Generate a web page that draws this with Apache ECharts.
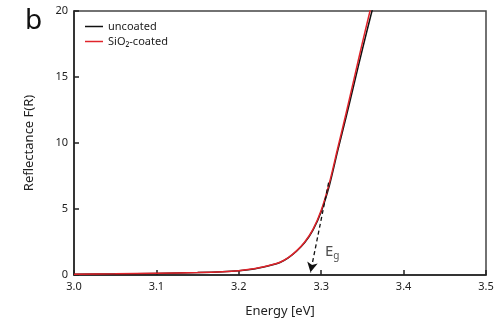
<!DOCTYPE html>
<html>
<head>
<meta charset="utf-8">
<script src="https://cdn.jsdelivr.net/npm/echarts@6/dist/echarts.min.js"></script>
<style>
  html, body { margin: 0; padding: 0; background: #fff; }
  #chart { width: 499px; height: 323px; }
</style>
</head>
<body>
<div id="chart"></div>
<script>
// energy in eV, reflectance F(R)
const uncoated = [
  [3.00, 0.05], [3.05, 0.08], [3.10, 0.12], [3.15, 0.18], [3.18, 0.24],
  [3.20, 0.32], [3.22, 0.47], [3.24, 0.75], [3.25, 0.95], [3.26, 1.30],
  [3.27, 1.80], [3.28, 2.45], [3.29, 3.40], [3.30, 4.80], [3.31, 6.80],
  [3.32, 9.40], [3.33, 11.9], [3.34, 14.5], [3.35, 17.1], [3.36, 19.6],
  [3.366, 21.0]
];
const sio2Coated = [
  [3.00, 0.06], [3.05, 0.09], [3.10, 0.13], [3.15, 0.19], [3.18, 0.25],
  [3.20, 0.33], [3.22, 0.49], [3.24, 0.77], [3.25, 0.97], [3.26, 1.32],
  [3.27, 1.83], [3.28, 2.50], [3.29, 3.45], [3.30, 4.90], [3.31, 7.00],
  [3.32, 9.60], [3.33, 12.2], [3.34, 14.9], [3.35, 17.6], [3.36, 20.2],
  [3.363, 21.0]
];
// Eg arrow: from tangent point down to the axis
const egArrow = [[3.309, 7.0], [3.287, 0.2]];
const egLabelPos = [[3.304, 1.8]];
const xTicks = ['3.0', '3.1', '3.2', '3.3', '3.4', '3.5'];

const font = 'Noto Sans';
const chart = echarts.init(document.getElementById('chart'));

chart.setOption({
  animation: false,
  textStyle: { fontFamily: font },
  grid: {
    left: 74, right: 13, top: 11, bottom: 44,
    show: true, borderColor: '#444', borderWidth: 1.5
  },
  legend: {
    left: 80, top: 16, orient: 'vertical', itemGap: 4,
    icon: 'rect', itemWidth: 18, itemHeight: 1.5,
    textStyle: { fontFamily: font, fontSize: 11, color: '#222' },
    data: ['uncoated', 'SiO₂-coated']
  },
  xAxis: {
    type: 'value', min: 3.0, max: 3.5, interval: 0.1,
    name: 'Energy [eV]', nameLocation: 'middle', nameGap: 30,
    nameTextStyle: { fontSize: 13, color: '#222' },
    axisLine: { lineStyle: { color: '#222', width: 1.5 } },
    axisTick: { inside: true, length: 5, lineStyle: { color: '#222', width: 1.5 } },
    axisLabel: {
      fontSize: 11, color: '#222', margin: 6,
      formatter: v => xTicks[Math.round((v - 3.0) * 10)]
    },
    splitLine: { show: false }
  },
  yAxis: {
    type: 'value', min: 0, max: 20, interval: 5,
    name: 'Reflectance F(R)', nameLocation: 'middle', nameGap: 38,
    nameTextStyle: { fontSize: 13, color: '#222' },
    axisLine: { show: true, lineStyle: { color: '#222', width: 1.5 } },
    axisTick: { show: true, inside: true, length: 5, lineStyle: { color: '#222', width: 1.5 } },
    axisLabel: { fontSize: 11, color: '#222', margin: 6 },
    splitLine: { show: false }
  },
  graphic: [{
    type: 'text', left: 25, top: 7,
    style: { text: 'b', fontSize: 28, fontFamily: font, fill: '#111' }
  }],
  series: [
    {
      name: 'uncoated', type: 'line', data: uncoated, symbol: 'none',
      smooth: 0.3, clip: true,
      lineStyle: { color: '#111', width: 1.5 }, itemStyle: { color: '#111' }
    },
    {
      name: 'SiO₂-coated', type: 'line', data: sio2Coated, symbol: 'none',
      smooth: 0.3, clip: true,
      lineStyle: { color: '#e0242b', width: 1.5 }, itemStyle: { color: '#e0242b' },
      markLine: {
        silent: true, symbol: ['none', 'arrow'], symbolSize: [8, 10],
        label: { show: false },
        lineStyle: { color: '#111', type: [4, 3], width: 1.3 },
        data: [[{ coord: egArrow[0] }, { coord: egArrow[1] }]]
      }
    },
    {
      name: 'Eg', type: 'scatter', data: egLabelPos, symbolSize: 1,
      itemStyle: { color: 'rgba(0,0,0,0)' }, silent: true,
      label: {
        show: true, position: 'right', distance: 0, formatter: '{e|E}{g|g}',
        rich: {
          e: { fontSize: 15, color: '#222', fontFamily: font },
          g: { fontSize: 10, color: '#222', fontFamily: font, padding: [10, 0, 0, 0] }
        }
      }
    }
  ]
});
</script>
</body>
</html>
